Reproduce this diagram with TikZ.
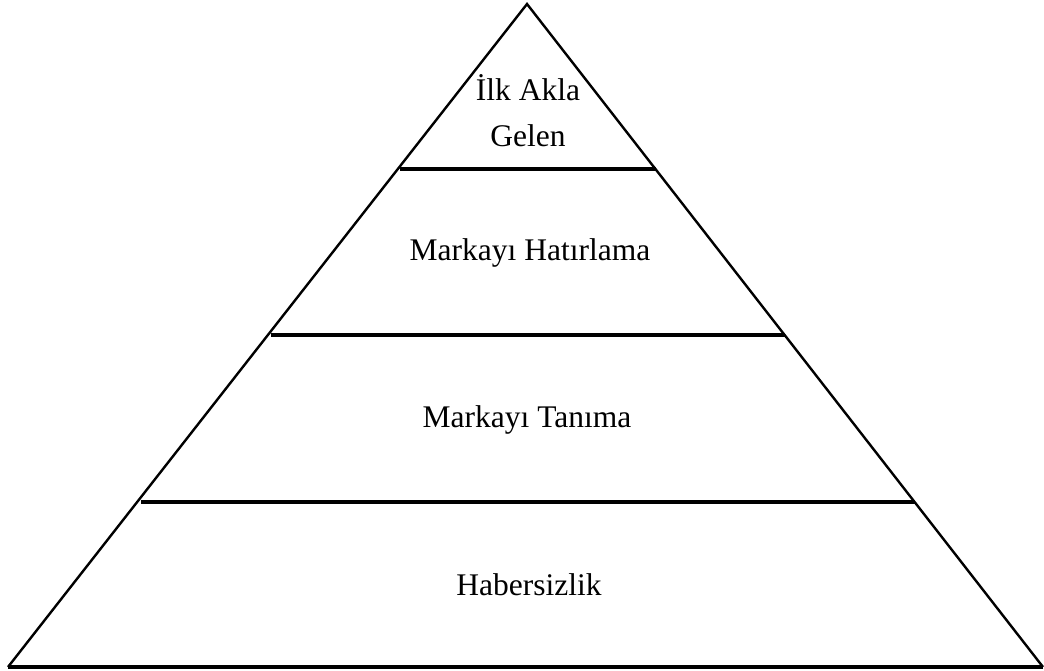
\documentclass[tikz,border=0pt]{standalone}
\usepackage{fontspec}
\setmainfont{Liberation Serif}
\usepackage{tikz}
\tikzstyle{level}=[font=\fontsize{31.5}{46}\selectfont, align=center]
\tikzstyle{side}=[draw=black, line width=2.4pt, line join=miter]
\tikzstyle{cut}=[draw=black, line width=3.4pt]

\begin{document}
\begin{tikzpicture}[x=1pt, y=-1pt]
		   \useasboundingbox (0, 0) rectangle (1044, 671);
		   \begin{scope}
			   \coordinate (top) at (527, 4);
			   \coordinate (bl) at (8, 667);
			   \coordinate (br) at (1043, 667);
			   \coordinate (a1) at (400, 169);
			   \coordinate (a2) at (656, 169);
			   \coordinate (b1) at (271, 335);
			   \coordinate (b2) at (785, 335);
			   \coordinate (c1) at (141, 502);
			   \coordinate (c2) at (915, 502);
			   \node[level] (ilk) at (528, 111) {İlk Akla\\Gelen};
			   \node[level] (hatirlama) at (530, 253) {Markayı Hatırlama};
			   \node[level] (tanima) at (527, 420) {Markayı Tanıma};
			   \node[level] (habersiz) at (529, 585) {Habersizlik};
		   \end{scope}
		   \begin{scope}
			   \path [side] (bl) -- (top) -- (br);
			   \path [cut] (a1) edge (a2);
			   \path [cut] (b1) edge (b2);
			   \path [cut] (c1) edge (c2);
			   \path [cut] (bl) edge (br);
		   \end{scope}
	   \end{tikzpicture}
\end{document}
